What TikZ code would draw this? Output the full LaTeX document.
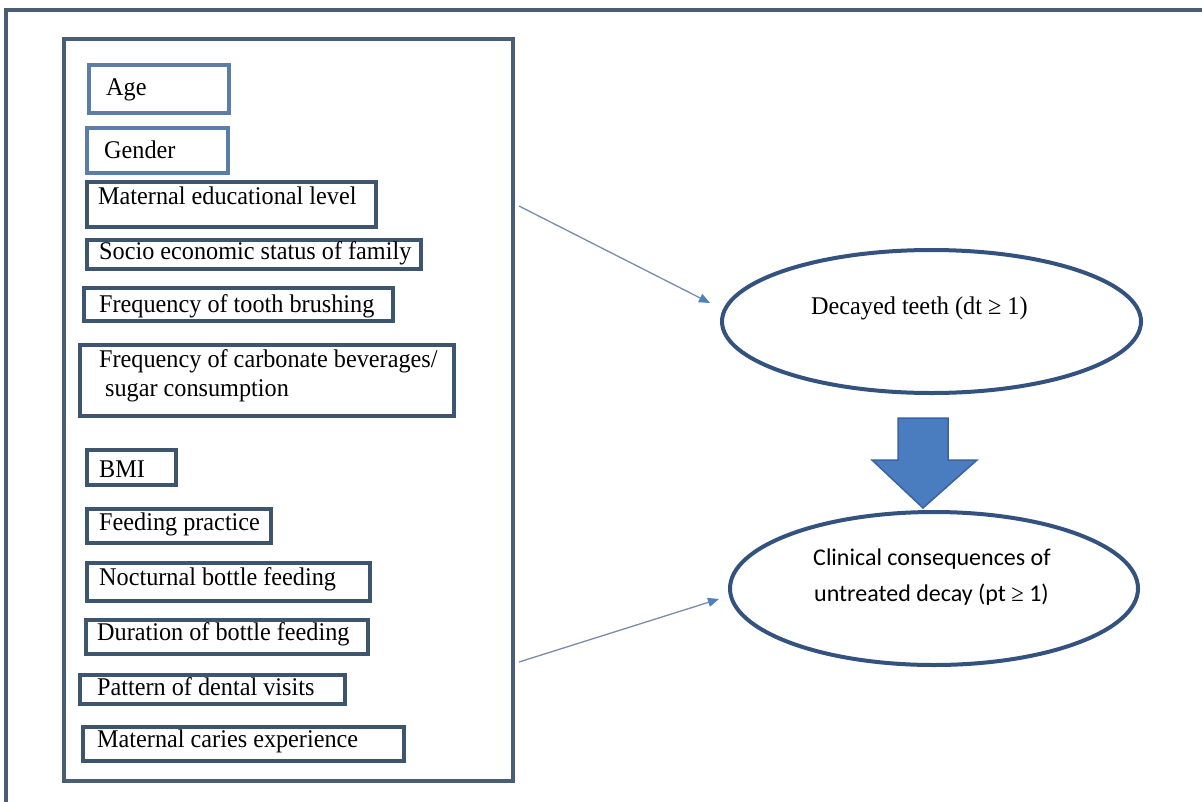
\documentclass[tikz,border=0pt]{standalone}
\usepackage{fontspec}
\setmainfont{Liberation Serif}[FakeStretch=0.95]
\newfontfamily\calibrifont{Carlito}
\usetikzlibrary{arrows.meta,shapes.geometric}
\definecolor{framecol}{HTML}{4A5D76}
\definecolor{boxdark}{HTML}{3E5570}
\definecolor{boxlight}{HTML}{5B7DA8}
\definecolor{ellcol}{HTML}{34527F}
\definecolor{arrfill}{HTML}{4A7CC0}
\definecolor{arredge}{HTML}{3A62A0}
\definecolor{thinline}{HTML}{7A8CA8}
\definecolor{tipcol}{HTML}{4F81BD}
\newcommand{\factorbox}[6]{%
  \node[#6, minimum width={#4-#2-4}, minimum height={#5-#3-4}] (#1) at ({(#2+#4)/2},{(#3+#5)/2}) {};}
\begin{document}
\begin{tikzpicture}[x=1pt,y=-1pt,
  fbox/.style={draw=boxdark, line width=4pt, inner sep=0pt, rectangle},
  lbox/.style={draw=boxlight, line width=3.5pt, inner sep=0pt, rectangle},
  txt/.style={inner sep=0pt, anchor=base west, font=\fontsize{25.5}{29}\selectfont, text=black},
  ctxt/.style={txt, font=\calibrifont\fontsize{24}{28}\selectfont},
  ell/.style={draw=ellcol, line width=4pt, ellipse, inner sep=0pt},
  thinarrow/.style={draw=thinline, line width=1.3pt, -{Triangle[length=11pt,width=9pt,color=tipcol]}},
]
\useasboundingbox[fill=white] (0,0) rectangle (1202,801);
% outer frame (top and left edges visible)
\draw[framecol, line width=4pt] (6,820) -- (6,10) -- (1220,10);
% inner box
\node[fbox, draw=framecol, minimum width=449, minimum height=742] (inner) at (288.5,410) {};
% factor boxes
\factorbox{age}{87}{63}{231}{115}{lbox}
\factorbox{gender}{85}{126}{230}{175}{lbox}
\factorbox{medu}{85}{180}{378}{229}{fbox}
\factorbox{ses}{85}{238}{423}{271}{fbox}
\factorbox{brush}{82}{286}{395}{323}{fbox}
\factorbox{carb}{78}{343}{456}{418}{fbox}
\factorbox{bmi}{85}{448}{178}{487}{fbox}
\factorbox{feed}{85}{507}{273}{545}{fbox}
\factorbox{noct}{85}{561}{372}{603}{fbox}
\factorbox{dur}{84}{618}{370}{656}{fbox}
\factorbox{pat}{78}{673}{347}{706}{fbox}
\factorbox{mcar}{81}{725}{406}{763}{fbox}
% texts
\node[txt] (aget) at (106,95) {Age};
\node[txt] (gendert) at (104,158) {Gender};
\node[txt] (medut) at (98,204) {Maternal educational level};
\node[txt] (sest) at (99,259) {Socio economic status of family};
\node[txt] (brusht) at (99,312) {Frequency of tooth brushing};
\node[txt] (carbt1) at (99,367) {Frequency of carbonate beverages/};
\node[txt] (carbt2) at (105,396) {sugar consumption};
\node[txt] (bmit) at (99,477) {BMI};
\node[txt] (feedt) at (99,530) {Feeding practice};
\node[txt] (noctt) at (99,585) {Nocturnal bottle feeding};
\node[txt] (durt) at (97,640) {Duration of bottle feeding};
\node[txt] (patt) at (97,695) {Pattern of dental visits};
\node[txt] (mcart) at (97,747) {Maternal caries experience};
% ellipses
\node[ell, minimum width=419, minimum height=143] (dec) at (931.5,321.5) {};
\node[txt] (dect) at (811,314) {Decayed teeth (dt ≥ 1)};
\node[ell, minimum width=408, minimum height=153] (clin) at (934,588.5) {};
\node[ctxt] (clint1) at (813,565) {Clinical consequences of};
\node[ctxt] (clint2) at (814,601) {untreated decay (pt {\rmfamily ≥} 1)};
% block arrow between the ellipses
\filldraw[fill=arrfill, draw=arredge, line width=1.5pt, line join=miter]
  (898,418) -- (948,418) -- (948,460) -- (977,460) -- (923,508) -- (872,460) -- (898,460) -- cycle;
% thin arrows
\coordinate (a1s) at (519,206);
\coordinate (a1e) at (710,303);
\coordinate (a2s) at (519,662);
\coordinate (a2e) at (719,599);
\draw[thinarrow] (a1s) -- (a1e);
\draw[thinarrow] (a2s) -- (a2e);
\end{tikzpicture}
\end{document}
